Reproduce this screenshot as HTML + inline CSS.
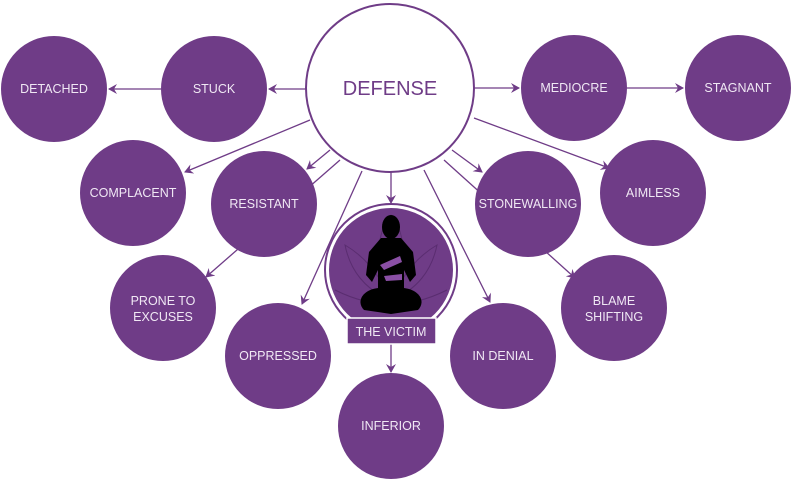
<!DOCTYPE html>
<html><head><meta charset="utf-8"><style>
body{margin:0;background:#fff}
svg{display:block}
text{font-family:"Liberation Sans",sans-serif;fill:#f0e8f4;font-size:12.5px;text-anchor:middle}
</style></head><body>
<svg width="792" height="480" viewBox="0 0 792 480" xmlns="http://www.w3.org/2000/svg">
<defs><marker id="a" markerWidth="10" markerHeight="10" refX="8" refY="5" orient="auto" markerUnits="userSpaceOnUse"><path d="M0,0 L9,5 L0,10 L3,5 Z" fill="#6f3c87"/></marker></defs>
<g stroke="#6f3c87" stroke-width="1.3" fill="none">
<line x1="306" y1="89" x2="269" y2="89" marker-end="url(#a)"/>
<line x1="161" y1="89" x2="109" y2="89" marker-end="url(#a)"/>
<line x1="474" y1="88" x2="519" y2="88" marker-end="url(#a)"/>
<line x1="627" y1="88" x2="683" y2="88" marker-end="url(#a)"/>
<line x1="310" y1="120" x2="185" y2="172" marker-end="url(#a)"/>
<line x1="330" y1="150" x2="307" y2="169" marker-end="url(#a)"/>
<line x1="340" y1="160" x2="206" y2="277" marker-end="url(#a)"/>
<line x1="362" y1="171" x2="302" y2="304" marker-end="url(#a)"/>
<line x1="391" y1="172" x2="391" y2="203" marker-end="url(#a)"/>
<line x1="391" y1="344" x2="391" y2="372" marker-end="url(#a)"/>
<line x1="424" y1="170" x2="490" y2="302" marker-end="url(#a)"/>
<line x1="452" y1="150" x2="482" y2="172" marker-end="url(#a)"/>
<line x1="444" y1="160" x2="575" y2="278" marker-end="url(#a)"/>
<line x1="474" y1="118" x2="609" y2="168" marker-end="url(#a)"/>
</g>
<circle cx="390" cy="88" r="84" fill="#fff" stroke="#6f3c87" stroke-width="2"/>
<text x="390" y="95" style="fill:#6f3c87;font-size:20px">DEFENSE</text>
<g fill="#6f3c87">
<circle cx="54" cy="89" r="53"/><circle cx="214" cy="89" r="53"/>
<circle cx="574" cy="88" r="53"/><circle cx="738" cy="88" r="53"/>
<circle cx="133" cy="193" r="53"/><circle cx="264" cy="204" r="53"/>
<circle cx="528" cy="204" r="53"/><circle cx="653" cy="193" r="53"/>
<circle cx="163" cy="308" r="53"/><circle cx="614" cy="308" r="53"/>
<circle cx="278" cy="356" r="53"/><circle cx="503" cy="356" r="53"/>
<circle cx="391" cy="426" r="53"/>
</g>
<circle cx="391" cy="270" r="66" fill="none" stroke="#6f3c87" stroke-width="2"/>
<circle cx="391" cy="270" r="62" fill="#6f3c87"/>
<g fill="none" stroke="#5a2d70" stroke-width="1">
<path d="M391,215 C375,235 375,265 391,300 C407,265 407,235 391,215Z"/>
<path d="M345,245 C350,270 365,290 391,300 C417,290 432,270 437,245 C420,255 405,270 391,300 C377,270 362,255 345,245Z"/>
<path d="M335,290 C355,300 375,305 391,303 C407,305 427,300 447,290"/>
</g>
<g fill="#000">
<ellipse cx="391" cy="227" rx="9" ry="12"/>
<path d="M381,238 L401,238 L413,252 L416,275 L410,282 L404,270 L404,292 L378,292 L378,270 L372,282 L366,275 L369,252Z"/>
<path d="M378,288 C362,290 356,302 364,310 L391,314 L418,310 C426,302 420,290 404,288Z"/>
</g>
<path d="M380,265 L400,256 L402,262 L384,270Z M384,276 L402,274 L402,280 L386,281Z" fill="#8a4fa5"/>
<rect x="347" y="318" width="89" height="26" fill="#6f3c87" stroke="#fff" stroke-width="1.5"/>
<text x="391" y="336">THE VICTIM</text>
<text x="54" y="93">DETACHED</text>
<text x="214" y="93">STUCK</text>
<text x="574" y="92">MEDIOCRE</text>
<text x="738" y="92">STAGNANT</text>
<text x="133" y="197">COMPLACENT</text>
<text x="264" y="208">RESISTANT</text>
<text x="528" y="208">STONEWALLING</text>
<text x="653" y="197">AIMLESS</text>
<text x="163" y="305">PRONE TO</text>
<text x="163" y="321">EXCUSES</text>
<text x="614" y="305">BLAME</text>
<text x="614" y="321">SHIFTING</text>
<text x="278" y="360">OPPRESSED</text>
<text x="503" y="360">IN DENIAL</text>
<text x="391" y="430">INFERIOR</text>
</svg>
</body></html>
